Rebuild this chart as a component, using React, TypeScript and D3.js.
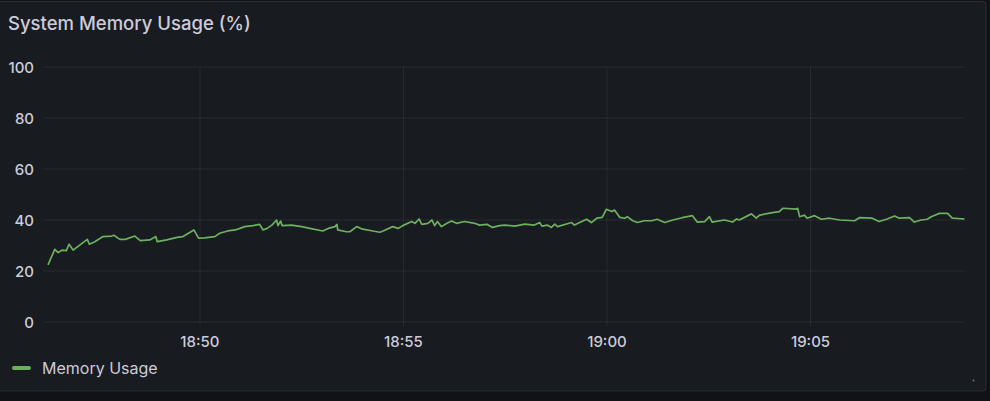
import React from "react";
import * as d3 from "d3";

const TITLE = "System Memory Usage (%)";
const SERIES_NAME = "Memory Usage";
const Y_TICKS = [0, 20, 40, 60, 80, 100];
const X_TICKS = ["18:50", "18:55", "19:00", "19:05"];
const X_START = "18:46:16";
const X_END = "19:08:47";

const TIMES = [
  "18:46:16","18:46:26","18:46:31","18:46:37","18:46:43","18:46:47","18:46:53","18:47:14","18:47:17","18:47:25",
  "18:47:37","18:47:50","18:47:53","18:48:02","18:48:10","18:48:24","18:48:32","18:48:46","18:48:55","18:48:57",
  "18:49:11","18:49:26","18:49:35","18:49:51","18:49:58","18:50:07","18:50:22","18:50:29","18:50:41","18:50:52",
  "18:50:59","18:51:06","18:51:18","18:51:28","18:51:33","18:51:39","18:51:46","18:51:53","18:51:55","18:51:59",
  "18:52:01","18:52:15","18:52:30","18:52:42","18:53:01","18:53:09","18:53:19","18:53:22","18:53:23","18:53:36",
  "18:53:41","18:53:51","18:54:00","18:54:15","18:54:25","18:54:30","18:54:44","18:54:52","18:54:59","18:55:12",
  "18:55:17","18:55:23","18:55:27","18:55:36","18:55:42","18:55:46","18:55:50","18:55:56","18:56:04","18:56:11",
  "18:56:18","18:56:30","18:56:45","18:56:52","18:57:03","18:57:11","18:57:22","18:57:29","18:57:44","18:57:59",
  "18:58:13","18:58:21","18:58:24","18:58:32","18:58:38","18:58:43","18:58:47","18:59:08","18:59:12","18:59:30",
  "18:59:37","18:59:45","18:59:53","18:59:59","19:00:07","19:00:11","19:00:19","19:00:26","19:00:30","19:00:38",
  "19:00:45","19:00:55","19:01:06","19:01:14","19:01:25","19:01:37","19:01:51","19:02:06","19:02:13","19:02:24",
  "19:02:31","19:02:35","19:02:53","19:03:05","19:03:11","19:03:15","19:03:33","19:03:40","19:03:45","19:04:04",
  "19:04:14","19:04:19","19:04:39","19:04:41","19:04:44","19:04:51","19:04:55","19:05:06","19:05:16","19:05:28",
  "19:05:43","19:06:05","19:06:12","19:06:31","19:06:41","19:06:52","19:07:04","19:07:11","19:07:26","19:07:33",
  "19:07:43","19:07:52","19:07:58","19:08:10","19:08:22","19:08:29","19:08:47"
];

const VALUES = [
  22.4, 28.5, 27.2, 28.2, 28.0, 30.5, 28.2, 32.4, 30.5, 31.5,
  33.5, 33.7, 34.0, 32.4, 32.4, 33.7, 31.9, 32.2, 33.5, 31.5,
  32.2, 33.2, 33.5, 36.1, 32.9, 33.0, 33.5, 34.8, 35.7, 36.1,
  36.7, 37.4, 37.8, 38.3, 36.1, 36.7, 38.0, 40.0, 37.8, 39.6,
  37.8, 38.0, 37.4, 36.7, 35.7, 36.7, 37.4, 38.3, 36.1, 35.4,
  35.4, 37.4, 36.4, 35.7, 35.2, 35.7, 37.4, 36.7, 37.8, 39.4,
  38.7, 40.4, 38.3, 38.7, 40.0, 37.8, 39.4, 37.4, 38.7, 39.6,
  38.7, 39.4, 38.7, 38.0, 38.3, 37.1, 37.8, 38.0, 37.6, 38.4,
  38.0, 39.0, 37.6, 38.0, 37.1, 38.4, 37.4, 39.0, 38.0, 40.3,
  39.0, 40.7, 41.0, 44.2, 43.3, 43.9, 41.0, 40.7, 41.3, 39.7,
  39.0, 39.7, 39.7, 40.3, 39.0, 40.0, 40.9, 41.7, 39.2, 39.4,
  41.3, 39.2, 40.0, 39.2, 40.4, 40.0, 42.4, 40.7, 41.9, 42.9,
  43.3, 44.6, 44.3, 44.6, 41.3, 41.9, 40.7, 41.7, 40.3, 40.7,
  40.0, 39.7, 40.9, 40.7, 39.4, 40.3, 41.6, 40.7, 40.9, 39.2,
  40.0, 40.3, 41.3, 42.6, 42.6, 40.7, 40.4
];

const W = 990;
const H = 401;
const FONT = "Inter, 'Open Sans', sans-serif";
const TEXT = "#ccccdc";
const GRID = "rgba(204,204,220,0.09)";
const LINE = "#6cb060";

const parse = (s: string) => {
  const [h, m, sec] = s.split(":").map(Number);
  return new Date(2024, 0, 1, h, m, sec || 0);
};

export default function App() {
  const x = d3
    .scaleTime()
    .domain([parse(X_START), parse(X_END)])
    .range([48, 964.5]);
  const y = d3.scaleLinear().domain([0, 100]).range([322, 67]);

  const data = TIMES.map((t, i) => ({ t: parse(t), v: VALUES[i] }));
  const line = d3
    .line<{ t: Date; v: number }>()
    .x((d) => x(d.t))
    .y((d) => y(d.v))
    .curve(d3.curveLinear);

  const plotLeft = 43;
  const plotRight = 965;

  return (
    <svg
      width={W}
      height={H}
      style={{ position: "fixed", left: 0, top: 0, display: "block" }}
      fontFamily={FONT}
    >
      <rect x={0} y={0} width={W} height={H} fill="#111217" />
      <rect
        x={-3}
        y={1.5}
        width={989}
        height={389.5}
        rx={3}
        fill="#181b1f"
        stroke="rgba(204,204,220,0.12)"
        strokeWidth={1}
      />
      <text x={8} y={30} fill={TEXT} fontSize={18.5} fontWeight={500}>
        {TITLE}
      </text>

      {Y_TICKS.map((v) => (
        <g key={v}>
          <line
            x1={plotLeft}
            x2={plotRight}
            y1={y(v)}
            y2={y(v)}
            stroke={GRID}
            strokeWidth={1}
          />
          <text
            x={34}
            y={y(v)}
            fill={TEXT}
            fontSize={15}
            fontWeight={500}
            textAnchor="end"
            dominantBaseline="central"
          >
            {v}
          </text>
        </g>
      ))}

      {X_TICKS.map((s) => {
        const xx = x(parse(s + ":00"));
        return (
          <g key={s}>
            <line x1={xx} x2={xx} y1={67} y2={326} stroke={GRID} strokeWidth={1} />
            <text
              x={xx}
              y={341}
              fill={TEXT}
              fontSize={15}
              fontWeight={500}
              textAnchor="middle"
              dominantBaseline="central"
            >
              {s}
            </text>
          </g>
        );
      })}

      <path
        d={line(data) || ""}
        fill="none"
        stroke={LINE}
        strokeWidth={1.7}
        strokeLinejoin="round"
      />

      <line x1={14} x2={29} y1={368} y2={368} stroke={LINE} strokeWidth={4} strokeLinecap="round" />
      <text x={42} y={368} fill={TEXT} fontSize={16} dominantBaseline="central">
        {SERIES_NAME}
      </text>
      <circle cx={973.5} cy={380.5} r={1} fill="rgba(204,204,220,0.5)" />
    </svg>
  );
}
